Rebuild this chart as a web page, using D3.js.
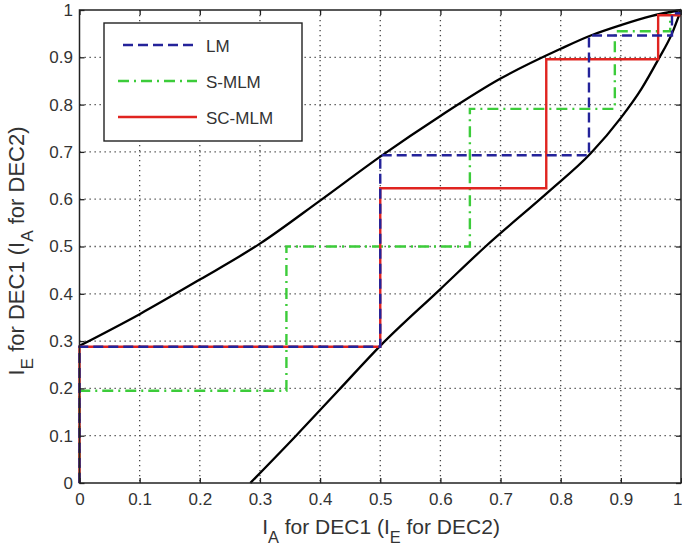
<!DOCTYPE html>
<html>
<head>
<meta charset="utf-8">
<script src="https://cdn.jsdelivr.net/npm/d3@7"></script>
<style>
  html, body { margin: 0; padding: 0; background: #fff; }
  svg { display: block; font-family: "Liberation Sans", Arial, sans-serif; }
</style>
</head>
<body>
<svg id="chart" width="682" height="551"></svg>
<script>
// Axis ticks
const xTicks = [0, 0.1, 0.2, 0.3, 0.4, 0.5, 0.6, 0.7, 0.8, 0.9, 1];
const yTicks = [0, 0.1, 0.2, 0.3, 0.4, 0.5, 0.6, 0.7, 0.8, 0.9, 1];

// EXIT curve of DEC1 (upper)
const dec1X = [0, 0.1, 0.2, 0.3, 0.4, 0.5, 0.6, 0.7, 0.8, 0.85, 0.9, 0.95, 1];
const dec1Y = [0.29, 0.357, 0.43, 0.506, 0.597, 0.69, 0.776, 0.855, 0.918, 0.946, 0.968, 0.987, 1];

// EXIT curve of DEC2, axes swapped (lower)
const dec2X = [0.284, 0.36, 0.43, 0.5, 0.6, 0.675, 0.78, 0.85, 0.9, 0.935, 0.962, 0.985, 1];
const dec2Y = [0, 0.1, 0.195, 0.29, 0.41, 0.5, 0.616, 0.697, 0.772, 0.835, 0.895, 0.95, 1];

// Decoding trajectories
const lmX   = [0, 0, 0.5, 0.5, 0.847, 0.847, 0.985, 0.985, 1];
const lmY   = [0, 0.288, 0.288, 0.693, 0.693, 0.946, 0.946, 0.993, 0.993];
const smlmX = [0, 0, 0.344, 0.344, 0.649, 0.649, 0.89, 0.89, 0.982, 0.982];
const smlmY = [0, 0.195, 0.195, 0.5, 0.5, 0.791, 0.791, 0.955, 0.955, 0.993];
const scX   = [0, 0, 0.5, 0.5, 0.776, 0.776, 0.962, 0.962, 1];
const scY   = [0, 0.288, 0.288, 0.623, 0.623, 0.896, 0.896, 0.989, 0.989];

const seriesNames = ["LM", "S-MLM", "SC-MLM"];

const svg = d3.select("#chart");
const pL = 79.5, pR = 681, pT = 10, pB = 483;

const x = d3.scaleLinear().domain([0, 1]).range([pL, pR]);
const y = d3.scaleLinear().domain([0, 1]).range([pB, pT]);

const zip = (xs, ys) => xs.map((v, i) => [v, ys[i]]);

// dotted grid
const grid = svg.append("g");
grid.selectAll("line.gx").data(xTicks.slice(1, -1)).join("line")
  .attr("x1", d => x(d)).attr("x2", d => x(d))
  .attr("y1", pT).attr("y2", pB)
  .attr("stroke", "#444").attr("stroke-width", 1.3)
  .attr("stroke-dasharray", "1.3,3.7");
grid.selectAll("line.gy").data(yTicks.slice(1, -1)).join("line")
  .attr("y1", d => y(d)).attr("y2", d => y(d))
  .attr("x1", pL).attr("x2", pR)
  .attr("stroke", "#444").attr("stroke-width", 1.3)
  .attr("stroke-dasharray", "1.3,3.7");

const smooth = d3.line().x(d => x(d[0])).y(d => y(d[1])).curve(d3.curveMonotoneX);
const step = d3.line().x(d => x(d[0])).y(d => y(d[1]));

svg.append("path").attr("d", smooth(zip(dec1X, dec1Y)))
  .attr("fill", "none").attr("stroke", "#000").attr("stroke-width", 2.3);
svg.append("path").attr("d", smooth(zip(dec2X, dec2Y)))
  .attr("fill", "none").attr("stroke", "#000").attr("stroke-width", 2.3);

const styles = [
  { color: "#24239a", dash: "10,5" },
  { color: "#3ccc3a", dash: "11,5,2,5" },
  { color: "#e02420", dash: null }
];
const paths = [zip(lmX, lmY), zip(smlmX, smlmY), zip(scX, scY)];

// draw S-MLM first, then SC-MLM, then LM dashes on top
[1, 2, 0].forEach(i => {
  svg.append("path").attr("d", step(paths[i]))
    .attr("fill", "none")
    .attr("stroke", styles[i].color)
    .attr("stroke-width", 2.4)
    .attr("stroke-dasharray", styles[i].dash);
});

// axes with inward ticks on all four sides
const fmt = d => d === 0 || d === 1 ? String(d) : d3.format(".1f")(d);
const axB = svg.append("g").attr("transform", `translate(0,${pB})`)
  .call(d3.axisBottom(x).tickValues(xTicks).tickFormat(fmt).tickSize(-5).tickPadding(10));
const axL = svg.append("g").attr("transform", `translate(${pL},0)`)
  .call(d3.axisLeft(y).tickValues(yTicks).tickFormat(fmt).tickSize(-5).tickPadding(6.5));
const axT = svg.append("g").attr("transform", `translate(0,${pT})`)
  .call(d3.axisTop(x).tickValues(xTicks).tickFormat("").tickSize(-5));
const axR = svg.append("g").attr("transform", `translate(${pR},0)`)
  .call(d3.axisRight(y).tickValues(yTicks).tickFormat("").tickSize(-5));
[axB, axL, axT, axR].forEach(g => {
  g.select(".domain").remove();
  g.selectAll(".tick line").attr("stroke", "#222").attr("stroke-width", 1.3);
  g.selectAll(".tick text").attr("font-size", 17).attr("fill", "#333")
    .attr("font-family", "Liberation Sans, Arial, sans-serif");
});
// keep the last bottom label inside the page
axB.selectAll(".tick text").filter(d => d === 1)
  .attr("text-anchor", "end").attr("x", 682 - pR);

svg.append("rect")
  .attr("x", pL).attr("y", pT)
  .attr("width", pR - pL).attr("height", pB - pT)
  .attr("fill", "none").attr("stroke", "#222").attr("stroke-width", 1.5);

// legend
const lg = svg.append("g");
lg.append("rect").attr("x", 104).attr("y", 23).attr("width", 198).attr("height", 118)
  .attr("fill", "#fff").attr("stroke", "#222").attr("stroke-width", 1.4);
const legY = [45, 81, 117];
seriesNames.forEach((name, i) => {
  lg.append("line")
    .attr("x1", i === 0 ? 123 : 118).attr("x2", 197)
    .attr("y1", legY[i]).attr("y2", legY[i])
    .attr("stroke", styles[i].color).attr("stroke-width", 2.4)
    .attr("stroke-dasharray", styles[i].dash);
  lg.append("text").attr("x", 206).attr("y", legY[i] + 7)
    .attr("font-size", 17).attr("fill", "#333").text(name);
});

// axis titles with subscripts
function title(g, a, b) {
  const t = g.append("text").attr("text-anchor", "middle").attr("fill", "#333");
  t.append("tspan").text("I");
  t.append("tspan").attr("font-size", "0.78em").attr("dy", 9).text(a);
  t.append("tspan").attr("dy", -9).text(" for DEC1 (");
  t.append("tspan").text("I");
  t.append("tspan").attr("font-size", "0.78em").attr("dy", 9).text(b);
  t.append("tspan").attr("dy", -9).text(" for DEC2)");
  return t;
}
title(svg.append("g").attr("transform", "translate(381,534)"), "A", "E")
  .attr("font-size", 21);
title(svg.append("g").attr("transform", "translate(24,251) rotate(-90)"), "E", "A")
  .attr("font-size", 22);
</script>
</body>
</html>
